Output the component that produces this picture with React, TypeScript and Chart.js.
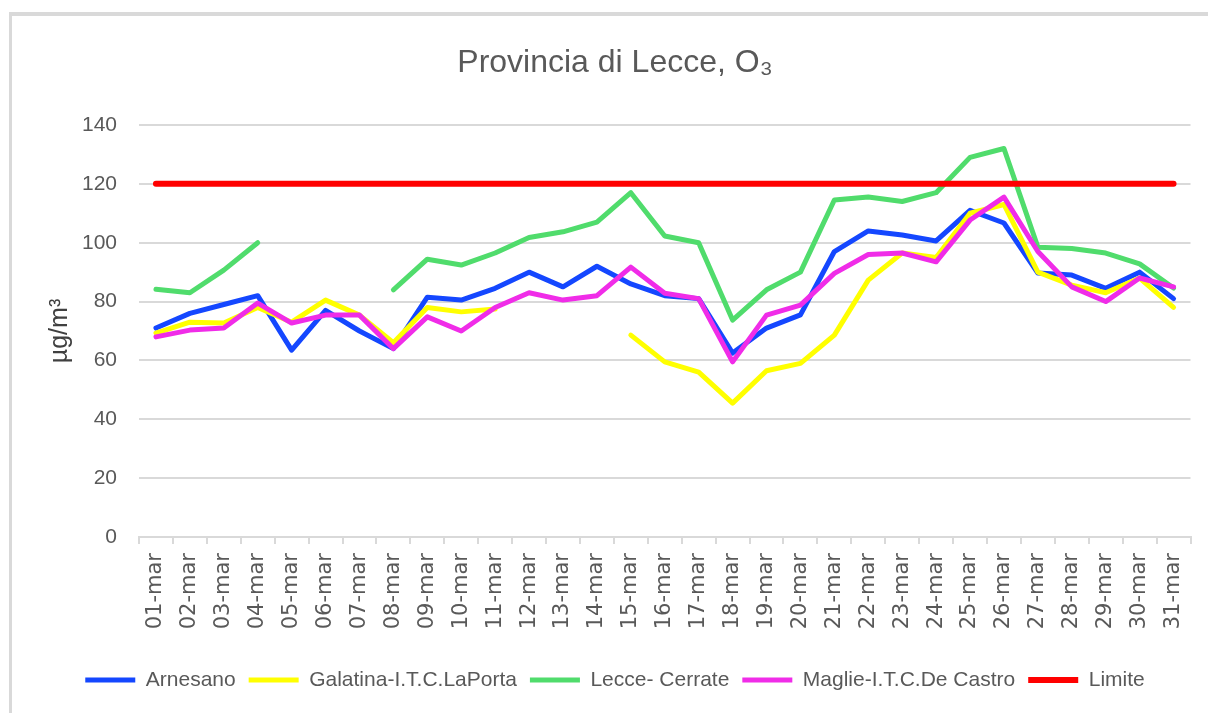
import React, { useEffect, useRef } from "react";
import { Chart, registerables } from "chart.js";

Chart.register(...registerables);

const categories = [
  "01-mar", "02-mar", "03-mar", "04-mar", "05-mar", "06-mar", "07-mar", "08-mar",
  "09-mar", "10-mar", "11-mar", "12-mar", "13-mar", "14-mar", "15-mar", "16-mar",
  "17-mar", "18-mar", "19-mar", "20-mar", "21-mar", "22-mar", "23-mar", "24-mar",
  "25-mar", "26-mar", "27-mar", "28-mar", "29-mar", "30-mar", "31-mar",
];

const arnesano = [71, 76, 79, 82, 63.5, 77, 70, 64, 81.5, 80.5, 84.5, 90, 85, 92, 86, 82,
  81, 62.5, 71, 75.5, 97, 104, 102.6, 100.6, 111, 106.7, 89.7, 89, 84.5, 90, 81];
const galatina = [69.3, 73, 72.7, 78, 73, 80.5, 75.4, 66, 78, 76.5, 77.5, null, null, null, 68.6, 59.5,
  56, 45.5, 56.5, 59, 68.6, 87.3, 96.5, 95, 110, 113, 90, 85.6, 83, 88, 78];
const lecce = [84.2, 83, 90.7, 100, null, null, null, 84, 94.4, 92.4, 96.5, 101.8, 103.7, 107, 117, 102.3,
  100, 73.7, 84, 90, 114.5, 115.5, 114, 117, 129, 132, 98.5, 98, 96.5, 92.8, 84.6];
const maglie = [68, 70.3, 71, 79.5, 72.7, 75.4, 75.4, 64, 74.8, 70, 78, 83, 80.5, 82, 91.7, 82.8,
  81, 59.5, 75.4, 78.8, 89.6, 96, 96.5, 93.5, 107.7, 115.5, 97, 85, 80, 88, 85];
const limite = categories.map(() => 120);

const seriesNames = ["Arnesano", "Galatina-I.T.C.LaPorta", "Lecce- Cerrate", "Maglie-I.T.C.De Castro", "Limite"];
const seriesColors = ["#1447ff", "#ffff00", "#50dc6c", "#f02ce8", "#ff0000"];
const yTicks = [0, 20, 40, 60, 80, 100, 120, 140];

const SANS = "'Liberation Sans', Arial, sans-serif";
const TEXT = "#595959";

export default function App() {
  const ref = useRef<HTMLCanvasElement | null>(null);

  useEffect(() => {
    if (!ref.current) return;
    const values = [arnesano, galatina, lecce, maglie, limite];
    const chart = new Chart(ref.current, {
      type: "line",
      data: {
        labels: categories,
        datasets: values.map((v, i) => ({
          label: seriesNames[i],
          data: v,
          borderColor: seriesColors[i],
          backgroundColor: seriesColors[i],
          borderWidth: i === 4 ? 6 : 5,
          pointRadius: 0,
          pointHoverRadius: 0,
          tension: 0,
          spanGaps: false,
          borderCapStyle: "round",
          borderJoinStyle: "round",
          order: 5 - i,
        })),
      },
      options: {
        responsive: false,
        animation: false,
        devicePixelRatio: 1,
        layout: { padding: { left: 38, right: 16, top: 0, bottom: 12.5 } },
        plugins: {
          tooltip: { enabled: false },
          title: {
            display: true,
            text: "Provincia di Lecce, O₃",
            color: TEXT,
            font: { family: SANS, size: 32, weight: "normal" },
            padding: { top: 43.8, bottom: 42.8 },
          },
          legend: {
            position: "bottom",
            labels: {
              usePointStyle: true,
              pointStyle: "line",
              pointStyleWidth: 50,
              color: TEXT,
              font: { family: SANS, size: 21 },
              padding: 13,
              sort: (a: any, b: any) => a.datasetIndex - b.datasetIndex,
            },
          },
        },
        scales: {
          x: {
            offset: true,
            grid: {
              display: true,
              offset: true,
              drawOnChartArea: false,
              drawTicks: true,
              tickLength: 7,
              color: "#d9d9d9",
              lineWidth: 2,
            },
            border: { display: true, color: "#d9d9d9", width: 2 },
            ticks: {
              autoSkip: false,
              maxRotation: 90,
              minRotation: 90,
              padding: 9,
              color: TEXT,
              font: { family: "'DejaVu Sans', sans-serif", size: 21 },
            },
            afterFit: (s: any) => {
              s.height = 119.5;
            },
          },
          y: {
            min: 0,
            max: 140,
            afterBuildTicks: (s: any) => {
              s.ticks = yTicks.map((v) => ({ value: v }));
            },
            grid: { color: "#d9d9d9", lineWidth: 2, drawTicks: false },
            border: { display: false },
            ticks: {
              padding: 22,
              color: TEXT,
              font: { family: SANS, size: 21 },
            },
            title: {
              display: true,
              text: "µg/m³",
              color: "#404040",
              font: { family: SANS, size: 25 },
              padding: { top: 7, bottom: 0 },
            },
            afterFit: (s: any) => {
              s.width = 101;
            },
          },
        },
      },
    });
    return () => chart.destroy();
  }, []);

  return (
    <div
      style={{
        position: "fixed",
        left: 0,
        top: 0,
        width: 1208,
        height: 713,
        overflow: "hidden",
        background: "#fff",
      }}
    >
      <div
        style={{
          position: "absolute",
          left: 9,
          top: 12,
          width: 1300,
          height: 800,
          borderTop: "4px solid #d9d9d9",
          borderLeft: "3px solid #d9d9d9",
        }}
      />
      <canvas ref={ref} width={1208} height={713} style={{ position: "absolute", left: 0, top: 0 }} />
    </div>
  );
}
